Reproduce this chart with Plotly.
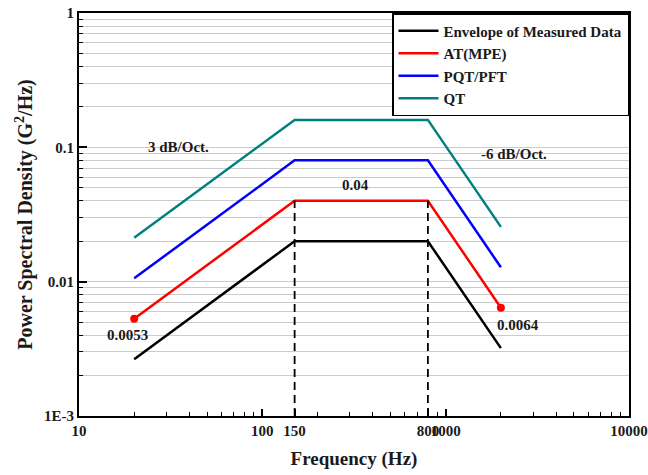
import numpy as np
import plotly.graph_objects as go

# ---- data ----
freq = [20, 150, 800, 2000]
envelope = [0.00265, 0.02, 0.02, 0.0032]
at_mpe = [0.0053, 0.04, 0.04, 0.0064]
pqt_pft = [0.0106, 0.08, 0.08, 0.0128]
qt = [0.0212, 0.16, 0.16, 0.0256]
series_names = ["Envelope of Measured Data", "AT(MPE)", "PQT/PFT", "QT"]
series_colors = ["#000000", "#ff0000", "#0000ff", "#008080"]
break_freqs = [150, 800]
dash_bottom = 0.001
dash_top = 0.04
end_freqs = [20, 2000]
end_values = [0.0053, 0.0064]
x_tickvals = [10, 100, 150, 800, 1000, 10000]
x_ticktext = ["10", "100", "150", "800", "1000", "10000"]
y_tickvals = [1, 0.1, 0.01, 0.001]
y_ticktext = ["1", "0.1", "0.01", "1E-3"]

FONT = "Liberation Serif"
TXT = "#1a1a1a"

fig = go.Figure()
for name, vals, col in zip(series_names, [envelope, at_mpe, pqt_pft, qt], series_colors):
    fig.add_trace(go.Scatter(x=freq, y=vals, mode="lines", name="<b>%s</b>" % name,
                             line=dict(color=col, width=2.5)))

for bf in break_freqs:
    fig.add_trace(go.Scatter(x=[bf, bf], y=[dash_bottom, dash_top], mode="lines",
                             line=dict(color="black", width=1.8, dash="8px,5px"),
                             showlegend=False, hoverinfo="skip"))

fig.add_trace(go.Scatter(x=end_freqs, y=end_values, mode="markers",
                         marker=dict(color="#ff0000", size=8), showlegend=False))

ann_font = dict(family=FONT, size=15, color=TXT)
annots = [
    ("3 dB/Oct.", 34.8, 0.1),
    ("-6 dB/Oct.", 2355, 0.0887),
    ("0.04", 322, 0.052),
    ("0.0053", 18.3, 0.00402),
    ("0.0064", 2472, 0.00478),
]
for txt, ax_, ay_ in annots:
    fig.add_annotation(x=np.log10(ax_), y=np.log10(ay_), xref="x", yref="y",
                       text="<b>%s</b>" % txt, showarrow=False, font=ann_font)

x_minor = [m * 10 ** e for e in range(1, 4) for m in range(2, 10)]
y_minor = [m * 10 ** e for e in range(-3, 0) for m in range(2, 10)]

fig.update_xaxes(type="log", range=[1, 4], tickmode="array", tickvals=x_tickvals,
                 ticktext=["<b>%s</b>" % t for t in x_ticktext], tickangle=0,
                 ticklabeloverflow="allow", automargin=False,
                 ticks="inside", ticklen=7, tickwidth=1.5, tickcolor="black",
                 showline=True, linecolor="black", linewidth=2, mirror=True,
                 showgrid=False, zeroline=False,
                 tickfont=dict(family=FONT, size=15, color=TXT),
                 minor=dict(tickmode="array", tickvals=x_minor, ticks="inside",
                            ticklen=4, tickwidth=1.3, tickcolor="black", showgrid=False),
                 title=dict(text="<b>Frequency (Hz)</b>",
                            font=dict(family=FONT, size=19, color=TXT), standoff=14))
fig.update_yaxes(type="log", range=[-3, 0], tickmode="array", tickvals=y_tickvals,
                 ticktext=["<b>%s</b>" % t for t in y_ticktext], automargin=False,
                 ticks="inside", ticklen=8, tickwidth=1.5, tickcolor="black",
                 showline=True, linecolor="black", linewidth=2, mirror=True,
                 showgrid=True, gridcolor="#cccccc", gridwidth=1, zeroline=False,
                 tickfont=dict(family=FONT, size=15, color=TXT),
                 minor=dict(tickmode="array", tickvals=y_minor, ticks="inside",
                            ticklen=4, tickwidth=1.3, tickcolor="black",
                            showgrid=True, gridcolor="#cccccc", gridwidth=1),
                 title=dict(text="<b>Power Spectral Density (G<sup>2</sup>/Hz)</b>",
                            font=dict(family=FONT, size=20, color=TXT), standoff=6))

fig.update_layout(
    width=648, height=475,
    margin=dict(l=79, r=19, t=13, b=59, autoexpand=False),
    paper_bgcolor="white", plot_bgcolor="white",
    showlegend=True,
    legend=dict(x=1, y=1, xanchor="right", yanchor="top",
                bgcolor="white", bordercolor="black", borderwidth=1.5,
                font=dict(family=FONT, size=15, color=TXT),
                tracegroupgap=0, itemwidth=40),
)

fig.write_html("out.html")
